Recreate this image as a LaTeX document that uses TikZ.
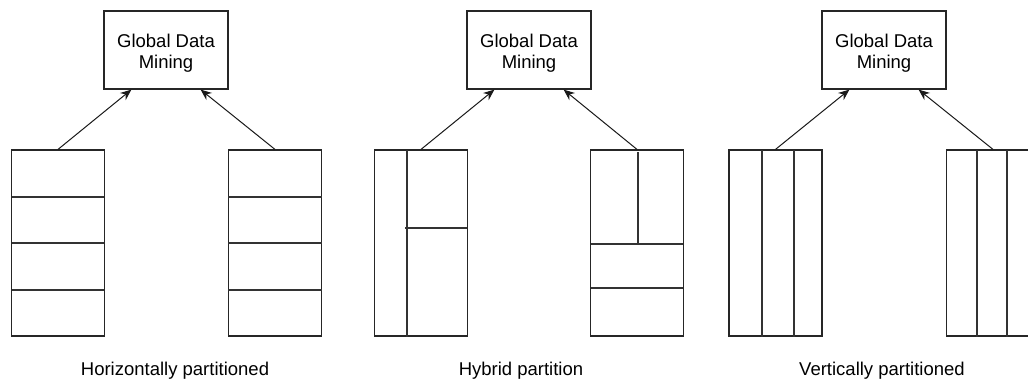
\documentclass[tikz,border=0pt]{standalone}
\usepackage{fontspec}
\setmainfont{Liberation Sans}
\usetikzlibrary{arrows.meta}

\begin{document}
\begin{tikzpicture}[x=1pt, y=-1pt,
    every node/.style={font=\fontsize{18.5}{21}\selectfont},
    minebox/.style={draw=black!85, line width=1.2pt, minimum width=124pt, minimum height=78pt, inner sep=0pt},
    minetext/.style={align=center, inner sep=0pt},
    partbox/.style={draw=black!85, line width=1.2pt, minimum width=93pt, minimum height=186pt, inner sep=0pt},
    cut/.style={draw=black!80, line width=1.2pt},
    feed/.style={-{Stealth[length=11pt, width=9pt]}, line width=1pt, black!90}]

\useasboundingbox (0,0) rectangle (1028,381);
\clip (0,0) rectangle (1028,381);

% global data mining boxes
\node[minebox] (g1) at (166,50) {};
\node[minebox] (g2) at (529,50) {};
\node[minebox] (g3) at (884,50) {};
\node[minetext] (t1) at (166,53.5) {Global Data\\Mining};
\node[minetext] (t2) at (529,53.5) {Global Data\\Mining};
\node[minetext] (t3) at (884,53.5) {Global Data\\Mining};

% horizontally partitioned
\node[partbox] (h1) at (58,243) {};
\node[partbox] (h2) at (275,243) {};
\draw[cut] (12,197) -- (104,197);
\draw[cut] (12,243) -- (104,243);
\draw[cut] (12,290) -- (104,290);
\draw[cut] (228,197) -- (322,197);
\draw[cut] (228,243) -- (322,243);
\draw[cut] (228,290) -- (322,290);
\draw[feed] (h1.north) -- ([xshift=28pt]g1.south west);
\draw[feed] (h2.north) -- ([xshift=-28pt]g1.south east);

% hybrid partition
\node[partbox] (b1) at (421,243) {};
\node[partbox] (b2) at (637,243) {};
\draw[cut] (407,150) -- (407,337);
\draw[cut] (405,228) -- (467,228);
\draw[cut] (638,152) -- (638,244);
\draw[cut] (591,244) -- (683,244);
\draw[cut] (591,288) -- (683,288);
\draw[feed] (b1.north) -- ([xshift=28pt]g2.south west);
\draw[feed] (b2.north) -- ([xshift=-28pt]g2.south east);

% vertically partitioned
\node[partbox] (v1) at (775.5,243) {};
\node[partbox] (v2) at (993,243) {};
\draw[cut] (762,150) -- (762,337);
\draw[cut] (794,150) -- (794,337);
\draw[cut] (977,150) -- (977,337);
\draw[cut] (1007,150) -- (1007,337);
\draw[feed] (v1.north) -- ([xshift=28pt]g3.south west);
\draw[feed] (v2.north) -- ([xshift=-28pt]g3.south east);

% captions
\node (c1) at (175,371) {Horizontally partitioned};
\node (c2) at (521,371) {Hybrid partition};
\node (c3) at (882,371) {Vertically partitioned};

\end{tikzpicture}
\end{document}
